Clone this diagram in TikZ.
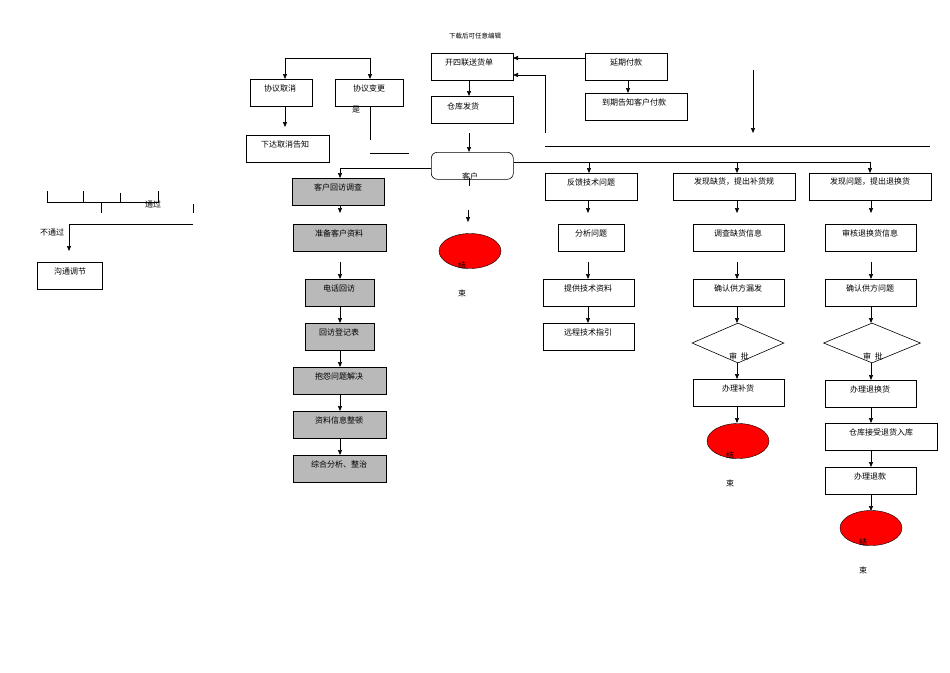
\documentclass[tikz,border=0pt]{standalone}
\usepackage{fontspec}
\setmainfont{Liberation Serif}
\newfontfamily\cjk{Noto Sans CJK SC}
\usetikzlibrary{shapes.geometric,arrows.meta}
\begin{document}
\begin{tikzpicture}[x=1pt,y=-1pt,
 every node/.style={font=\cjk\fontsize{8}{9}\selectfont},
 bx/.style={draw,line width=0.6pt,minimum height=27pt,inner sep=0pt,text depth=0pt},
 gb/.style={bx,fill=gray!55},
 ar/.style={-{Triangle[length=5pt,width=4pt]},line width=0.6pt},
 ln/.style={line width=0.6pt},
 endn/.style={ellipse,draw,fill=red,minimum width=62pt,minimum height=35pt},
 dia/.style={diamond,draw,line width=0.6pt,aspect=2.3,inner sep=0pt}]
\useasboundingbox (0,0) rectangle (950,672);
\newcommand{\bxx}[5]{\node[#1,minimum width=#4-#2,anchor=north west] (#5) at (#2,#3) {};}
\node[bx,minimum width=82pt,anchor=north west] (kd) at (431,53) {};\node at (469,62) {开四联送货单};
\node[bx,minimum width=82pt,anchor=north west] (ck) at (431,96) {};\node at (463,106) {仓库发货};
\node[bx,minimum width=82pt,anchor=north west] (yq) at (585,53) {};\node at (626,62) {延期付款};
\node[bx,minimum width=102pt,anchor=north west] (dq) at (585,93) {};\node at (634,102) {到期告知客户付款};
\node[bx,minimum width=62pt,anchor=north west] (qx) at (250,79) {};\node at (280,88) {协议取消};
\node[bx,minimum width=68pt,anchor=north west] (bg) at (335,79) {};\node at (369,88) {协议变更};
\node[bx,minimum width=83pt,anchor=north west] (xd) at (246,135) {};\node at (285,144) {下达取消告知};
\node[bx,rounded corners=6pt,minimum width=82pt,anchor=north west] (kh) at (431,152) {};\node at (470,176) {客户};
\node[gb,minimum width=92pt,anchor=north west] (a1) at (292,178) {};\node at (338,187) {客户回访调查};
\node[gb,minimum width=93pt,anchor=north west] (a2) at (293,224) {};\node at (339,233) {准备客户资料};
\node[gb,minimum width=69pt,anchor=north west] (a3) at (305,279) {};\node at (339,288) {电话回访};
\node[gb,minimum width=69pt,anchor=north west] (a4) at (305,323) {};\node at (339,332) {回访登记表};
\node[gb,minimum width=93pt,anchor=north west] (a5) at (293,367) {};\node at (339,376) {抱怨问题解决};
\node[gb,minimum width=93pt,anchor=north west] (a6) at (293,411) {};\node at (339,420) {资料信息整顿};
\node[gb,minimum width=93pt,anchor=north west] (a7) at (293,455) {};\node at (339,464) {综合分析、整治};
\node[bx,minimum width=92pt,anchor=north west] (b1) at (545,173) {};\node at (591,182) {反馈技术问题};
\node[bx,minimum width=66pt,anchor=north west] (b2) at (558,224) {};\node at (591,233) {分析问题};
\node[bx,minimum width=91pt,anchor=north west] (b3) at (543,279) {};\node at (588,288) {提供技术资料};
\node[bx,minimum width=91pt,anchor=north west] (b4) at (543,323) {};\node at (588,332) {远程技术指引};
\node[bx,minimum width=122pt,anchor=north west] (c1) at (673,173) {};\node at (734,182) {发现缺货，提出补货规};
\node[bx,minimum width=91pt,anchor=north west] (c2) at (693,224) {};\node at (738,233) {调查缺货信息};
\node[bx,minimum width=91pt,anchor=north west] (c3) at (693,279) {};\node at (738,288) {确认供方漏发};
\node[dia,minimum width=92pt,minimum height=40pt] (c4) at (738,343) {};\node at (739,356) {审\ \ 批};
\node[bx,minimum width=91pt,anchor=north west] (c5) at (693,379) {};\node at (738,388) {办理补货};
\node[endn] (c6) at (738,441) {};\node at (730,455) {结};\node at (730,483) {束};
\node[bx,minimum width=122pt,anchor=north west] (d1) at (809,173) {};\node at (870,182) {发现问题，提出退换货};
\node[bx,minimum width=91pt,anchor=north west] (d2) at (825,224) {};\node at (870,233) {审核退换货信息};
\node[bx,minimum width=91pt,anchor=north west] (d3) at (825,279) {};\node at (870,288) {确认供方问题};
\node[dia,minimum width=97pt,minimum height=40pt] (d4) at (872,343) {};\node at (873,356) {审\ \ 批};
\node[bx,minimum width=91pt,anchor=north west] (d5) at (825,380) {};\node at (870,389) {办理退换货};
\node[bx,minimum width=112pt,anchor=north west] (d6) at (825,423) {};\node at (881,432) {仓库接受退货入库};
\node[bx,minimum width=91pt,anchor=north west] (d7) at (825,467) {};\node at (870,476) {办理退款};
\node[endn] (d8) at (871,528) {};\node at (863,542) {结};\node at (863,570) {束};
\node[endn] (m1) at (470,251) {};\node at (462,265) {结};\node at (462,293) {束};
\node[bx,minimum width=65pt,anchor=north west] (gt) at (37,262) {};\node at (70,271) {沟通调节};
\node[font=\cjk\fontsize{6.5}{7}\selectfont] at (475,36) {下载后可任意编辑};
\node at (356,110) {是};\node at (153,204) {通过};\node at (52,232) {不通过};
% coordinates
\coordinate (t1) at (285,58);\coordinate (t2) at (370,58);
\draw[ln] (t1)--(t2);
\draw[ar] (t1)--(qx.north -| t1);\draw[ar] (t2)--(bg.north -| t2);
\draw[ar] (285,106)--(285,127);
\draw[ln] (370,106)--(370,140);\draw[ln] (370,153)--(409,153);
\draw[ar] (469,80)--(469,96);
\draw[ar] (469,133)--(469,152);
\draw[ar] (yq.west |- 0,58)--(513,58);
\draw[ar] (545,133)--(545,75)--(513,75);
\draw[ar] (628,80)--(628,93);
\draw[ar] (753,70)--(753,133);
\draw[ln] (545,146)--(930,146);
\draw[ar] (kh.west |- 0,168)--(340,168)--(340,178);
\draw[ln] (kh.east |- 0,162)--(870,162);
\draw[ar] (589,162)--(589,173);\draw[ar] (737,162)--(737,173);\draw[ar] (870,162)--(870,173);
\draw[ln] (469,178)--(469,186);
\draw[ar] (468,210)--(468,222);
\foreach \a/\b in {205/213,262/279,306/323,350/367,394/411,438/455}{\draw[ar] (340,\a)--(340,\b);}
\foreach \a/\b in {200/213,262/279,306/323}{\draw[ar] (588,\a)--(588,\b);}
\foreach \a/\b in {200/213,262/279,306/323,363/379,406/423}{\draw[ar] (737,\a)--(737,\b);}
\foreach \a/\b in {200/213,262/279,306/323,363/380,407/423,450/467,494/511}{\draw[ar] (871,\a)--(871,\b);}
\draw[ln] (47,191)--(47,202)--(158,202)--(158,191);
\draw[ln] (83,191)--(83,202);\draw[ln] (120,193)--(120,202);
\draw[ln] (101,202)--(101,213);\draw[ln] (193,204)--(193,213);
\draw[ar] (193,224)--(69,224)--(69,251);
\end{tikzpicture}
\end{document}
